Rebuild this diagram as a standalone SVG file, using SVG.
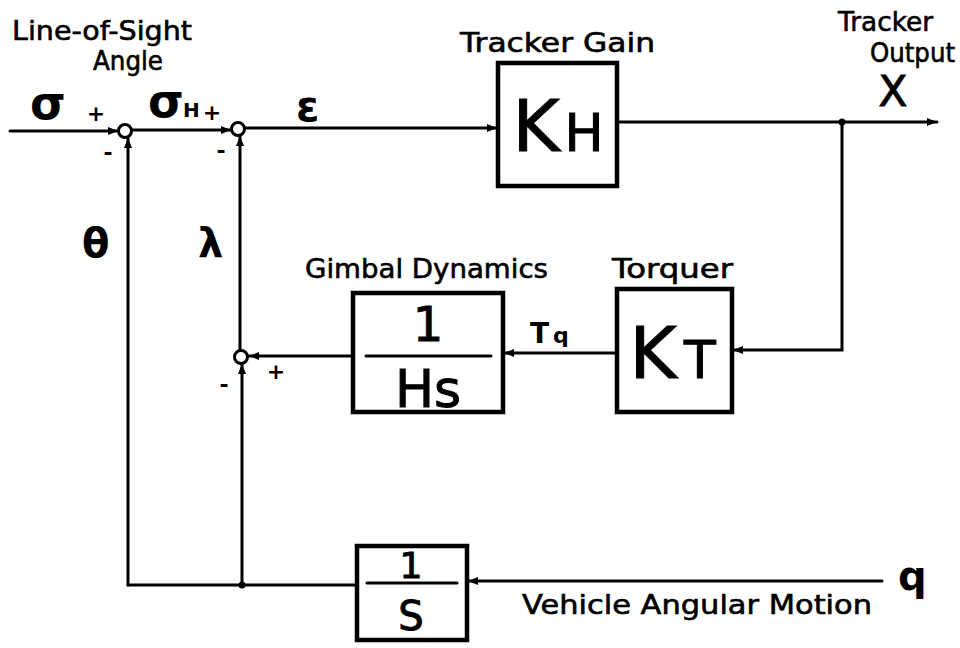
<svg xmlns="http://www.w3.org/2000/svg" width="960" height="648" viewBox="0 0 960 648">
<defs>
<marker id="arr" viewBox="0 0 10 8" refX="10" refY="4" markerWidth="10" markerHeight="8" markerUnits="userSpaceOnUse" orient="auto">
<path d="M0,0 L10,4 L0,8 Z" fill="#000"/>
</marker>
<style>
.ln{fill:none;stroke:#000;stroke-width:3;stroke-linecap:round}
.bx{fill:#fff;stroke:#000;stroke-width:4.5}
.sj{fill:#fff;stroke:#000;stroke-width:3}
.lb{font-family:"DejaVu Sans","Liberation Sans",sans-serif;font-size:26px;fill:#000;stroke:#000;stroke-width:0.6}
.gk{font-family:"DejaVu Sans","Liberation Sans",sans-serif;font-weight:bold;fill:#000}
.big{font-family:"DejaVu Sans","Liberation Sans",sans-serif;fill:#000;text-anchor:middle;stroke:#000;stroke-width:1}
.sg{font-family:"DejaVu Sans","Liberation Sans",sans-serif;font-weight:bold;font-size:22px;fill:#000;text-anchor:middle}
</style>
</defs>
<rect width="960" height="648" fill="#fff"/>

<g id="connectors">
<path class="ln" d="M10,131 H118" marker-end="url(#arr)"/>
<path class="ln" d="M132,130 H231" marker-end="url(#arr)"/>
<path class="ln" d="M245,128 H497" marker-end="url(#arr)"/>
<path class="ln" d="M617,122 H937" marker-end="url(#arr)"/>
<path class="ln" d="M842,122 V350 H733" marker-end="url(#arr)"/>
<path class="ln" d="M617,353 H504" marker-end="url(#arr)"/>
<path class="ln" d="M352,356 H249" marker-end="url(#arr)"/>
<path class="ln" d="M240,350 V136" marker-end="url(#arr)"/>
<path class="ln" d="M242,585 V364" marker-end="url(#arr)"/>
<path class="ln" d="M128,585 V138" marker-end="url(#arr)"/>
<path class="ln" d="M128,585 H357"/>
<path class="ln" d="M882,581 H468" marker-end="url(#arr)"/>
<circle cx="842" cy="122" r="3.5" fill="#000"/>
<circle cx="242" cy="585" r="3.5" fill="#000"/>
</g>

<g id="sum1"><circle class="sj" cx="125" cy="131" r="6.5"/>
<text class="sg" x="96" y="121">+</text><text class="sg" x="108" y="160">-</text></g>
<g id="sum2"><circle class="sj" cx="238" cy="129" r="6.5"/>
<text class="sg" x="212" y="120">+</text><text class="sg" x="221" y="158">-</text></g>
<g id="sum3"><circle class="sj" cx="241" cy="357" r="6.5"/>
<text class="sg" x="276" y="379">+</text><text class="sg" x="224" y="392">-</text></g>

<g id="kh">
<rect class="bx" x="498" y="63" width="119" height="123"/>
<text class="big" x="536" y="151" font-size="72">K</text>
<text class="big" x="584" y="151" font-size="52">H</text>
</g>
<g id="kt">
<rect class="bx" x="617" y="289" width="115" height="123"/>
<text class="big" x="653" y="378" font-size="72">K</text>
<text class="big" x="700" y="378" font-size="52">T</text>
</g>
<g id="hs">
<rect class="bx" x="353" y="293" width="150" height="119"/>
<path class="ln" d="M366,356 H491"/>
<text class="big" x="428" y="341" font-size="48">1</text>
<text class="big" x="428" y="407" font-size="52">Hs</text>
</g>
<g id="s">
<rect class="bx" x="357" y="546" width="110" height="94"/>
<path class="ln" d="M367,583 H457"/>
<text class="big" x="411" y="578" font-size="36">1</text>
<text class="big" x="411" y="630" font-size="40">S</text>
</g>

<g id="labels">
<text class="lb" x="12" y="40" textLength="180" lengthAdjust="spacingAndGlyphs">Line-of-Sight</text>
<text class="lb" x="93" y="70" textLength="70" lengthAdjust="spacingAndGlyphs">Angle</text>
<text class="lb" x="460" y="52" font-size="28" textLength="195" lengthAdjust="spacingAndGlyphs">Tracker Gain</text>
<text class="lb" x="838" y="31" textLength="95" lengthAdjust="spacingAndGlyphs">Tracker</text>
<text class="lb" x="870" y="62" textLength="85" lengthAdjust="spacingAndGlyphs">Output</text>
<text class="big" x="893" y="106" font-size="42">X</text>
<text class="gk" x="30" y="119" font-size="46">σ</text>
<text class="gk" x="148" y="117" font-size="46">σ</text>
<text class="gk" x="183" y="117" font-size="20">H</text>
<text class="gk" x="296" y="121" font-size="42">ε</text>
<text class="gk" x="82" y="257" font-size="40">θ</text>
<text class="gk" x="198" y="257" font-size="40">λ</text>
<text class="lb" x="305" y="278" font-size="28" textLength="243" lengthAdjust="spacingAndGlyphs">Gimbal Dynamics</text>
<text class="lb" x="612" y="278" font-size="28" textLength="121" lengthAdjust="spacingAndGlyphs">Torquer</text>
<text class="gk" x="530" y="343" font-size="28">T</text>
<text class="gk" x="553" y="343" font-size="22">q</text>
<text class="lb" x="522" y="614" font-size="28" textLength="350" lengthAdjust="spacingAndGlyphs">Vehicle Angular Motion</text>
<text class="gk" x="898" y="590" font-size="40">q</text>
</g>
</svg>
